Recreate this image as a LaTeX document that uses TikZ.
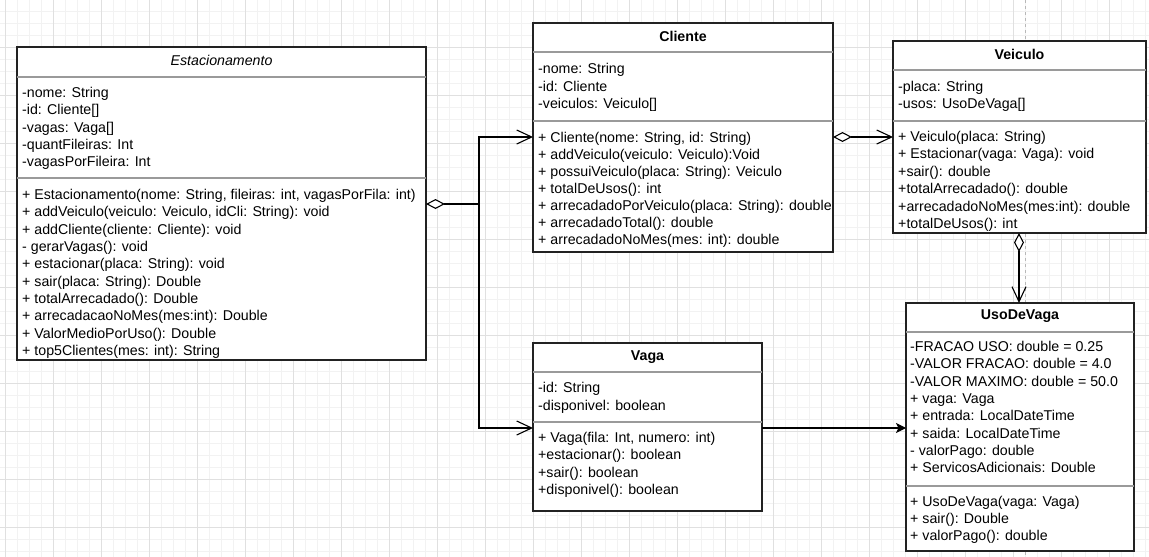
\documentclass[tikz,border=0pt]{standalone}
\usepackage{fontspec}
\setmainfont{Liberation Sans}
\usetikzlibrary{arrows.meta}
\definecolor{gridmin}{HTML}{F2F2F2}
\definecolor{gridmaj}{HTML}{E0E0E0}
\definecolor{boxline}{HTML}{222222}
\definecolor{divline}{HTML}{9A9A9A}
\definecolor{pagebreak}{HTML}{B8B8B8}
\tikzset{
  box/.style={draw=boxline, line width=1.1pt, fill=white, anchor=north west, inner sep=0pt, outer sep=0pt},
  divider/.style={draw=divline, line width=1.1pt},
  txt/.style={anchor=base west, inner sep=0pt, font=\fontsize{14.2}{17}\selectfont},
  ttl/.style={anchor=base, inner sep=0pt, font=\fontsize{14.2}{17}\selectfont\bfseries},
  conn/.style={draw=black, line width=1.1pt},
  aggstart/.style={conn, {Diamond[fill=white,length=19pt,width=10pt]}-},
  openend/.style={conn, -{Straight Barb[length=15pt,width=14pt]}},
  aggopen/.style={conn, {Diamond[fill=white,length=19pt,width=10pt]}-{Straight Barb[length=15pt,width=14pt]}},
  assoc/.style={conn, -{Stealth[length=10pt,width=10pt,inset=2.5pt]}},
  gridminor/.style={draw=gridmin, line width=0.8pt},
  gridmajor/.style={draw=gridmaj, line width=0.9pt},
}
\newcommand\classrows[5]{%
  \foreach \t [count=\i] in {#5} {\node[txt] (#1-\i) at (#2,{#3+(\i-1)*#4}) {\t};}%
}
\begin{document}
\begin{tikzpicture}[x=1pt,y=-1pt]
\fill[white] (0,0) rectangle (1149,557);
\useasboundingbox (0,0) rectangle (1149,557);
% grid
\foreach \x in {5,17,...,1149} \draw[gridminor] (\x,0) -- (\x,557);
\foreach \y in {-1,11,...,557} \draw[gridminor] (0,\y) -- (1149,\y);
\foreach \x in {5,53,...,1149} \draw[gridmajor] (\x,0) -- (\x,557);
\foreach \y in {-1,47,...,557} \draw[gridmajor] (0,\y) -- (1149,\y);
\draw[pagebreak, line width=0.9pt, dash pattern=on 3pt off 3pt] (1025,0) -- (1025,557);

% boxes
\node[box, minimum width=409pt, minimum height=313pt] (E) at (17,47) {};
\node[box, minimum width=300pt, minimum height=229pt] (C) at (533,23) {};
\node[box, minimum width=253pt, minimum height=192pt] (V) at (893,41) {};
\node[box, minimum width=228pt, minimum height=248pt] (U) at (906,303) {};
\node[box, minimum width=229pt, minimum height=168pt] (G) at (533,343) {};

% dividers
\draw[divider] (17,77) -- (426,77);
\draw[divider] (17,178) -- (426,178);
\draw[divider] (533,52) -- (833,52);
\draw[divider] (533,121) -- (833,121);
\draw[divider] (893,70) -- (1146,70);
\draw[divider] (893,121) -- (1146,121);
\draw[divider] (906,332) -- (1134,332);
\draw[divider] (906,486) -- (1134,486);
\draw[divider] (533,372) -- (762,372);
\draw[divider] (533,422) -- (762,422);

% titles
\node[ttl, font=\fontsize{14.2}{17}\selectfont\itshape] (Et) at (221.5,65) {Estacionamento};
\node[ttl] (Ct) at (683,41) {Cliente};
\node[ttl] (Vt) at (1019.5,59) {Veiculo};
\node[ttl] (Ut) at (1020,319) {UsoDeVaga};
\node[ttl] (Gt) at (647.5,360) {Vaga};

% Estacionamento
\classrows{Ea}{22}{97.5}{17.3}{{-nome: String},{-id: Cliente[]},{-vagas: Vaga[]},{-quantFileiras: Int},{-vagasPorFileira: Int}}
\classrows{Em}{22}{199.5}{17.33}{{+ Estacionamento(nome: String, fileiras: int, vagasPorFila: int)},{+ addVeiculo(veiculo: Veiculo, idCli: String): void},{+ addCliente(cliente: Cliente): void},{- gerarVagas(): void},{+ estacionar(placa: String): void},{+ sair(placa: String): Double},{+ totalArrecadado(): Double},{+ arrecadacaoNoMes(mes:int): Double},{+ ValorMedioPorUso(): Double},{+ top5Clientes(mes: int): String}}

% Cliente
\classrows{Ca}{538}{73.5}{17.5}{{-nome: String},{-id: Cliente},{-veiculos: Veiculo[]}}
\classrows{Cm}{538}{142.5}{17.0}{{+ Cliente(nome: String, id: String)},{+ addVeiculo(veiculo: Veiculo):Void},{+ possuiVeiculo(placa: String): Veiculo},{+ totalDeUsos(): int},{+ arrecadadoPorVeiculo(placa: String): double},{+ arrecadadoTotal(): double},{+ arrecadadoNoMes(mes: int): double}}

% Veiculo
\classrows{Va}{898}{91.5}{17.3}{{-placa: String},{-usos: UsoDeVaga[]}}
\classrows{Vm}{898}{141.5}{17.4}{{+ Veiculo(placa: String)},{+ Estacionar(vaga: Vaga): void},{+sair(): double},{+totalArrecadado(): double},{+arrecadadoNoMes(mes:int): double},{+totalDeUsos(): int}}

% UsoDeVaga
\classrows{Ua}{910}{351.5}{17.3}{{-FRACAO USO: double = 0.25},{-VALOR FRACAO: double = 4.0},{-VALOR MAXIMO: double = 50.0},{+ vaga: Vaga},{+ entrada: LocalDateTime},{+ saida: LocalDateTime},{- valorPago: double},{+ ServicosAdicionais: Double}}
\classrows{Um}{910}{506.5}{17.0}{{+ UsoDeVaga(vaga: Vaga)},{+ sair(): Double},{+ valorPago(): double}}

% Vaga
\classrows{Ga}{538}{392.5}{17.5}{{-id: String},{-disponivel: boolean}}
\classrows{Gm}{538}{442.5}{17.3}{{+ Vaga(fila: Int, numero: int)},{+estacionar(): boolean},{+sair(): boolean},{+disponivel(): boolean}}

% connectors
\coordinate (j1) at (479,204);
\coordinate (j2) at (479,137);
\coordinate (j3) at (479,428);
\draw[aggstart] (E.east |- j1) -- (j1);
\draw[openend] (j1) -- (j2) -- (C.west |- j2);
\draw[openend] (j1) -- (j3) -- (G.west |- j3);
\coordinate (cv) at (860,137);
\draw[aggopen] (C.east |- cv) -- (V.west |- cv);
\coordinate (vu) at (1019,270);
\draw[aggopen] (V.south -| vu) -- (U.north -| vu);
\coordinate (gu) at (830,428);
\draw[assoc] (G.east |- gu) -- (U.west |- gu);
\end{tikzpicture}
\end{document}
